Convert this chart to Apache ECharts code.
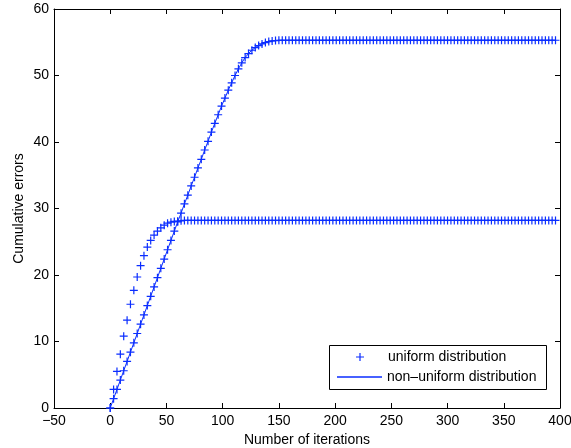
<!DOCTYPE html>
<html>
<head>
<meta charset="utf-8">
<script src="https://cdn.jsdelivr.net/npm/echarts@6/dist/echarts.min.js"></script>
<style>html,body{margin:0;padding:0;background:#fff;}#c{width:571px;height:448px;}</style>
</head>
<body>
<div id="c"></div>
<script>
var iterations = [0,3,6,9,12,15,18,21,24,27,30,33,36,39,42,45,48,51,54,57,60,63,66,69,72,75,78,81,84,87,90,93,96,99,102,105,108,111,114,117,120,123,126,129,132,135,138,141,144,147,150,153,156,159,162,165,168,171,174,177,180,183,186,189,192,195,198,201,204,207,210,213,216,219,222,225,228,231,234,237,240,243,246,249,252,255,258,261,264,267,270,273,276,279,282,285,288,291,294,297,300,303,306,309,312,315,318,321,324,327,330,333,336,339,342,345,348,351,354,357,360,363,366,369,372,375,378,381,384,387,390,393,396];

var uniformErrors = [0,2.8,5.5,8.1,10.8,13.2,15.6,17.7,19.7,21.4,22.9,24.2,25.2,26.0,26.6,27.1,27.5,27.8,27.95,28.05,28.1,28.15,
28.2,28.2,28.2,28.2,28.2,28.2,28.2,28.2,28.2,28.2,28.2,28.2,28.2,28.2,28.2,28.2,28.2,28.2,28.2,28.2,
28.2,28.2,28.2,28.2,28.2,28.2,28.2,28.2,28.2,28.2,28.2,28.2,28.2,28.2,28.2,28.2,28.2,28.2,28.2,28.2,
28.2,28.2,28.2,28.2,28.2,28.2,28.2,28.2,28.2,28.2,28.2,28.2,28.2,28.2,28.2,28.2,28.2,28.2,28.2,28.2,
28.2,28.2,28.2,28.2,28.2,28.2,28.2,28.2,28.2,28.2,28.2,28.2,28.2,28.2,28.2,28.2,28.2,28.2,28.2,28.2,
28.2,28.2,28.2,28.2,28.2,28.2,28.2,28.2,28.2,28.2,28.2,28.2,28.2,28.2,28.2,28.2,28.2,28.2,28.2,28.2,
28.2,28.2,28.2,28.2,28.2,28.2,28.2,28.2,28.2,28.2,28.2];

var nonUniformErrors = [0,1.4,2.8,4.2,5.6,7.0,8.4,9.8,11.2,12.6,14.0,15.4,16.8,18.2,19.6,21.0,22.4,23.8,25.2,26.6,
28.0,29.3,30.7,32.0,33.4,34.7,36.1,37.4,38.8,40.1,41.5,42.8,44.1,45.4,46.6,47.8,48.9,50.0,51.0,51.9,
52.7,53.3,53.8,54.2,54.5,54.75,54.95,55.1,55.2,55.25,
55.3,55.3,55.3,55.3,55.3,55.3,55.3,55.3,55.3,55.3,55.3,55.3,55.3,55.3,55.3,55.3,55.3,55.3,55.3,55.3,
55.3,55.3,55.3,55.3,55.3,55.3,55.3,55.3,55.3,55.3,55.3,55.3,55.3,55.3,55.3,55.3,55.3,55.3,55.3,55.3,
55.3,55.3,55.3,55.3,55.3,55.3,55.3,55.3,55.3,55.3,55.3,55.3,55.3,55.3,55.3,55.3,55.3,55.3,55.3,55.3,
55.3,55.3,55.3,55.3,55.3,55.3,55.3,55.3,55.3,55.3,55.3,55.3,55.3,55.3,55.3,55.3,55.3,55.3,55.3,55.3,
55.3,55.3,55.3];

var xTicks = {min: -50, max: 400, interval: 50};
var yTicks = {min: 0, max: 60, interval: 10};
var seriesNames = ['uniform distribution', 'non-uniform distribution'];
var legendLabels = ['uniform distribution', 'non\u2013uniform distribution'];

function pairs(xs, ys) { return xs.map(function (x, i) { return [x, ys[i]]; }); }

var BLUE = '#0a2dff';
var FONT = 'Liberation Sans';
var plus = 'path://M0,3.4 L8,3.4 L8,4.6 L0,4.6 Z M3.4,0 L4.6,0 L4.6,8 L3.4,8 Z';
var minusFmt = function (v) { return String(v).replace('-', '\u2212'); };

var axisCommon = {
  axisLine: {show: true, onZero: false, lineStyle: {color: '#000', width: 1}},
  axisTick: {show: true, inside: true, length: 5, lineStyle: {color: '#000'}},
  splitLine: {show: false}
};

function axis(extra, base) {
  return Object.assign({type: 'value'}, base, axisCommon, extra);
}

var chart = echarts.init(document.getElementById('c'), null, {renderer: 'canvas'});
chart.setOption({
  animation: false,
  backgroundColor: '#fff',
  textStyle: {fontFamily: FONT},
  grid: {left: 54, right: 11, top: 9, bottom: 40, containLabel: false, outerBoundsMode: 'none'},
  xAxis: [
    axis({position: 'bottom', name: 'Number of iterations', nameLocation: 'middle', nameGap: 23,
      nameTextStyle: {fontSize: 14, color: '#000', fontFamily: FONT},
      axisLabel: {show: true, fontSize: 14, color: '#000', margin: 6, fontFamily: FONT, formatter: minusFmt}}, xTicks),
    axis({position: 'top', axisLabel: {show: false}}, xTicks)
  ],
  yAxis: [
    axis({position: 'left', name: 'Cumulative errors', nameLocation: 'middle', nameGap: 28, nameRotate: 90,
      nameMoveOverlap: false,
      nameTextStyle: {fontSize: 14, color: '#000', fontFamily: FONT},
      axisLabel: {show: true, fontSize: 14, color: '#000', margin: 5, fontFamily: FONT}}, yTicks),
    axis({position: 'right', axisLabel: {show: false}}, yTicks)
  ],
  legend: [
    {data: [{name: seriesNames[0], icon: plus}], left: 356, top: 350, padding: 0,
      itemWidth: 8, itemHeight: 8, formatter: function () { return legendLabels[0]; },
      textStyle: {fontSize: 14, color: '#000', fontFamily: FONT, padding: [0, 0, 0, 19]}, selectedMode: false},
    {data: [{name: seriesNames[1], icon: 'rect'}], left: 337, top: 370, padding: 0,
      itemWidth: 45, itemHeight: 1.5, formatter: function () { return legendLabels[1]; },
      textStyle: {fontSize: 14, color: '#000', fontFamily: FONT}, selectedMode: false}
  ],
  graphic: {elements: [{type: 'rect', z: 3, shape: {x: 329.5, y: 345.5, width: 217, height: 44},
    style: {fill: '#fff', stroke: '#000', lineWidth: 1}}]},
  series: [
    {name: seriesNames[0], type: 'scatter', xAxisIndex: 0, yAxisIndex: 0,
      data: pairs(iterations, uniformErrors), symbol: plus, symbolSize: 8,
      itemStyle: {color: BLUE, opacity: 1}, emphasis: {disabled: true}},
    {name: seriesNames[1], type: 'line', xAxisIndex: 0, yAxisIndex: 0,
      data: pairs(iterations, nonUniformErrors), symbol: plus, symbolSize: 8, showAllSymbol: true,
      lineStyle: {color: BLUE, width: 1}, itemStyle: {color: BLUE}, emphasis: {disabled: true}}
  ]
});
</script>
</body>
</html>
